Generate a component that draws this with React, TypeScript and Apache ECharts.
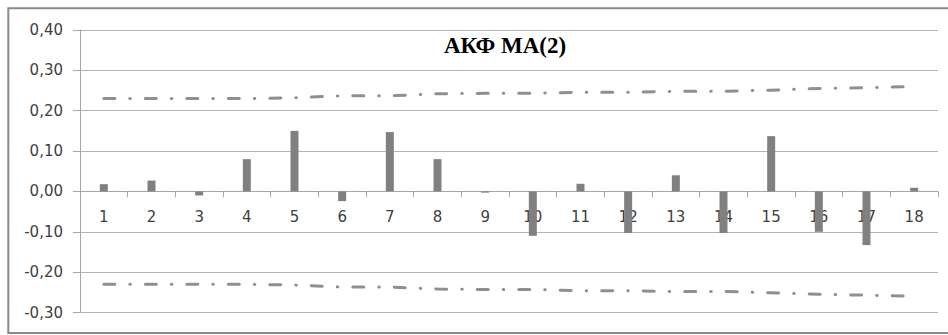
import React, { useEffect, useRef } from "react";
import * as echarts from "echarts";

const categories = ["1", "2", "3", "4", "5", "6", "7", "8", "9", "10", "11", "12", "13", "14", "15", "16", "17", "18"];
const acfValues = [0.018, 0.027, -0.01, 0.08, 0.15, -0.024, 0.147, 0.08, -0.003, -0.11, 0.019, -0.103, 0.04, -0.103, 0.137, -0.1, -0.133, 0.009];
const upperBand = [0.23, 0.23, 0.23, 0.23, 0.232, 0.237, 0.237, 0.242, 0.243, 0.243, 0.246, 0.246, 0.248, 0.248, 0.251, 0.255, 0.257, 0.26];
const lowerBand = [-0.23, -0.23, -0.23, -0.23, -0.232, -0.237, -0.237, -0.242, -0.243, -0.243, -0.246, -0.246, -0.248, -0.248, -0.251, -0.255, -0.257, -0.26];
const titleText = "АКФ МА(2)";
const yMin = -0.3;
const yMax = 0.4;

export default function App() {
  const ref = useRef<HTMLDivElement>(null);
  useEffect(() => {
    if (!ref.current) return;
    const chart = echarts.init(ref.current, undefined, { renderer: "svg" });
    const gridTop = 30;
    const gridBottom = 22.5;
    const plotH = 335 - gridTop - gridBottom;
    const zeroOffset = -plotH * (0 - yMin) / (yMax - yMin);
    const labelFont = { fontFamily: "DejaVu Sans", fontSize: 15, color: "#404040" };
    const bandStyle = {
      color: "#8f8f8f",
      width: 3,
      type: [11, 15, 0.5, 15] as any,
      cap: "round" as any,
    };
    chart.setOption({
      animation: false,
      backgroundColor: "#ffffff",
      grid: { left: 80, right: 10, top: gridTop, bottom: gridBottom, containLabel: false, outerBoundsMode: "none" },
      xAxis: {
        type: "category",
        data: categories,
        boundaryGap: true,
        position: "bottom",
        offset: zeroOffset,
        axisLine: { show: true, onZero: false, lineStyle: { color: "#a6a6a6", width: 1 } },
        axisTick: { show: true, length: 6, alignWithLabel: false, lineStyle: { color: "#a6a6a6" } },
        axisLabel: { ...labelFont, margin: 18 },
        splitLine: { show: false },
      },
      yAxis: {
        type: "value",
        min: yMin,
        max: yMax,
        interval: 0.1,
        axisLine: { show: true, lineStyle: { color: "#a6a6a6", width: 1 } },
        axisTick: { show: true, length: 7, lineStyle: { color: "#a6a6a6" } },
        axisLabel: {
          ...labelFont,
          margin: 17,
          formatter: (v: number) => v.toFixed(2).replace(".", ","),
        },
        splitLine: { show: true, lineStyle: { color: "#b3b3b3", width: 1 } },
      },
      graphic: [
        {
          type: "rect",
          shape: { x: 8.3, y: 8.3, width: 960, height: 324.7 },
          style: { fill: "none", stroke: "#8a8a8a", lineWidth: 2 },
          silent: true,
        },
        {
          type: "text",
          x: 505,
          y: 45,
          style: {
            text: titleText,
            font: "bold 23px 'Liberation Serif'",
            fill: "#000000",
            textAlign: "center",
            textVerticalAlign: "middle",
          },
        },
      ],
      series: [
        {
          type: "bar",
          data: acfValues,
          barWidth: 8,
          itemStyle: { color: "#808080" },
        },
        {
          type: "line",
          data: upperBand,
          symbol: "none",
          lineStyle: bandStyle,
        },
        {
          type: "line",
          data: lowerBand,
          symbol: "none",
          lineStyle: bandStyle,
        },
      ],
    });
    return () => chart.dispose();
  }, []);
  return (
    <div
      ref={ref}
      style={{ position: "fixed", left: 0, top: 0, width: 948, height: 335, background: "#fff" }}
    />
  );
}
